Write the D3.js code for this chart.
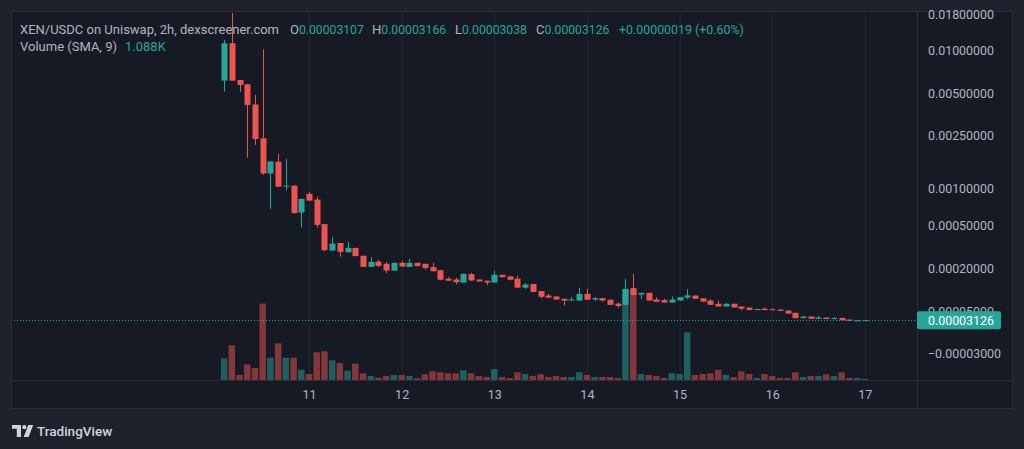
<!DOCTYPE html>
<html>
<head>
<meta charset="utf-8">
<script src="https://cdn.jsdelivr.net/npm/d3@7"></script>
<style>
  body { margin: 0; background: #1f222c; overflow: hidden; }
  svg { display: block; font-family: Roboto, "Noto Sans", sans-serif; }
  .axis text { fill: #b2b5be; }
</style>
</head>
<body>
<div id="container"></div>
<script>
/* CONSTANTS AND GLOBALS */
const width = 1024,
    height = 449,
    pane = { left: 11, top: 11, right: 917, bottom: 380, edge: 1013, foot: 409 };

// 2h candles, XEN/USDC, starting day 10 02:00
const opens = [0.00616, 0.01133, 0.00622, 0.00580, 0.00416, 0.00237, 0.00130, 0.00159, 0.00104, 0.00105,
  0.000645, 0.000907, 0.000818, 0.000518, 0.000304, 0.000356, 0.000293, 0.000321, 0.000271, 0.000210,
  0.000238, 0.000226, 0.000192, 0.000231, 0.000210, 0.000231, 0.000226, 0.000209, 0.000194, 0.000156,
  0.000153, 0.000141, 0.000176, 0.000153, 0.000148, 0.000141, 0.000173, 0.000166, 0.000156, 0.000122,
  0.000135, 0.000110, 0.0000953, 0.0000925, 0.0000853, 0.0000802, 0.0000802, 0.0001007, 0.0000831, 0.0000873,
  0.0000825, 0.0000714, 0.0000681, 0.0001202, 0.0000985, 0.0001040, 0.0000831, 0.0000815, 0.0000745, 0.0000802,
  0.0000890, 0.0000953, 0.0000870, 0.0000802, 0.0000710, 0.0000636, 0.0000710, 0.0000636, 0.0000609, 0.0000545,
  0.0000580, 0.0000565, 0.0000556, 0.0000533, 0.0000478, 0.0000357, 0.0000392, 0.0000341, 0.0000370, 0.0000335,
  0.0000362, 0.0000326, 0.0000291, 0.00003107];
const highs = [0.01196, 0.01854, 0.00623, 0.00580, 0.00487, 0.01028, 0.00160, 0.00182, 0.00167, 0.00106,
  0.000830, 0.000939, 0.000864, 0.000520, 0.000401, 0.000356, 0.000364, 0.000322, 0.000271, 0.000263,
  0.000247, 0.000236, 0.000232, 0.000242, 0.000253, 0.000232, 0.000226, 0.000231, 0.000195, 0.000163,
  0.000160, 0.000178, 0.000181, 0.000153, 0.000148, 0.000191, 0.000173, 0.000166, 0.000169, 0.000139,
  0.000135, 0.000110, 0.0001007, 0.0000925, 0.0000853, 0.0000903, 0.0001212, 0.0001176, 0.0000903, 0.0000875,
  0.0000825, 0.0000745, 0.0001557, 0.0001770, 0.0001040, 0.0001040, 0.0000903, 0.0000853, 0.0000925, 0.0000905,
  0.0001165, 0.0000955, 0.0000870, 0.0000843, 0.0000800, 0.0000727, 0.0000712, 0.0000636, 0.0000610, 0.0000573,
  0.0000609, 0.0000592, 0.0000556, 0.0000533, 0.0000478, 0.0000397, 0.0000392, 0.0000408, 0.0000370, 0.0000385,
  0.0000362, 0.0000326, 0.0000312, 0.00003166];
const lows = [0.00514, 0.00615, 0.00514, 0.00171, 0.00212, 0.00127, 0.00069, 0.00103, 0.00097, 0.00063,
  0.000485, 0.000800, 0.000485, 0.000300, 0.000300, 0.000266, 0.000290, 0.000268, 0.000210, 0.000209,
  0.000209, 0.000180, 0.000190, 0.000210, 0.000210, 0.000213, 0.000196, 0.000188, 0.000150, 0.000147,
  0.000135, 0.000140, 0.000148, 0.000144, 0.000131, 0.000140, 0.000160, 0.000150, 0.000120, 0.000118,
  0.000106, 0.0000861, 0.0000880, 0.0000830, 0.0000663, 0.0000800, 0.0000800, 0.0000820, 0.0000792, 0.0000770,
  0.0000680, 0.0000602, 0.0000678, 0.0000965, 0.0000843, 0.0000800, 0.0000765, 0.0000745, 0.0000745, 0.0000800,
  0.0000843, 0.0000850, 0.0000768, 0.0000680, 0.0000635, 0.0000635, 0.0000610, 0.0000533, 0.0000544, 0.0000544,
  0.0000544, 0.0000544, 0.0000522, 0.0000460, 0.0000356, 0.0000350, 0.0000340, 0.0000340, 0.0000334, 0.0000334,
  0.0000310, 0.0000298, 0.0000290, 0.00003038];
const closes = [0.01133, 0.00616, 0.00574, 0.00413, 0.00234, 0.00130, 0.00160, 0.00103, 0.00105, 0.00064,
  0.000829, 0.000804, 0.000511, 0.000306, 0.000352, 0.000295, 0.000321, 0.000269, 0.000210, 0.000236,
  0.000215, 0.000192, 0.000231, 0.000212, 0.000231, 0.000214, 0.000205, 0.000189, 0.000152, 0.000148,
  0.000142, 0.000177, 0.000149, 0.000145, 0.000141, 0.000173, 0.000163, 0.000152, 0.000122, 0.000133,
  0.000107, 0.0000913, 0.0000890, 0.0000831, 0.0000802, 0.0000831, 0.0001007, 0.0000825, 0.0000873, 0.0000802,
  0.0000681, 0.0000651, 0.0001176, 0.0000970, 0.0001040, 0.0000802, 0.0000765, 0.0000745, 0.0000831, 0.0000903,
  0.0000960, 0.0000853, 0.0000770, 0.0000681, 0.0000636, 0.0000710, 0.0000612, 0.0000580, 0.0000545, 0.0000572,
  0.0000545, 0.0000545, 0.0000523, 0.0000461, 0.0000357, 0.0000392, 0.0000341, 0.0000370, 0.0000335, 0.0000357,
  0.0000311, 0.0000299, 0.00003107, 0.00003126];
// volume in thousands
const volumes = [6.36, 10.17, 1.47, 4.60, 3.52, 22.36, 6.53, 10.75, 6.53, 6.53,
  3.02, 1.76, 8.12, 8.41, 5.77, 4.98, 2.72, 4.78, 1.96, 1.17,
  0.67, 1.17, 1.47, 1.47, 1.17, 0.50, 1.67, 2.55, 2.26, 1.96,
  1.96, 2.84, 1.96, 1.17, 0.88, 3.22, 0.88, 0.59, 2.26, 1.76,
  1.17, 1.67, 0.88, 1.17, 0.88, 0.88, 2.26, 1.47, 0.88, 0.88,
  0.88, 0.59, 26.66, 26.37, 1.76, 1.47, 1.17, 0.59, 1.96, 1.76,
  13.98, 1.47, 1.76, 1.96, 3.02, 1.47, 0.88, 2.55, 1.76, 0.59,
  1.76, 1.17, 0.59, 0.59, 2.26, 0.88, 1.17, 1.17, 1.67, 1.17,
  2.26, 0.59, 0.59, 0.29];
const priceTicks = [0.018, 0.01, 0.005, 0.0025, 0.001, 0.0005, 0.0002, 0.00005, -0.00003];
const dayTicks = [11, 12, 13, 14, 15, 16, 17];
const lastPrice = 0.00003126;
const titleText = "XEN/USDC on Uniswap, 2h, dexscreener.com";
const changeText = "+0.00000019 (+0.60%)";
const volumeTitle = "Volume (SMA, 9)";

const upColor = "#26a69a", downColor = "#ef5350";
const start = Date.UTC(2022, 9, 10, 2);
const data = opens.map((o, i) => ({
    date: new Date(start + i * 2 * 3600 * 1000),
    o, h: highs[i], l: lows[i], c: closes[i], v: volumes[i],
    up: closes[i] >= o
}));

//X SCALE
const xScale = d3.scaleUtc()
    .domain([new Date(Date.UTC(2022, 9, 11)), new Date(Date.UTC(2022, 9, 17))])
    .range([309, 864.8]);

//Y SCALE (TradingView style log: symlog with offset 1e-4)
const yScale = d3.scaleSymlog()
    .constant(0.0001)
    .domain([-0.0001, 0.01915])
    .range([pane.bottom, pane.top]);

const volScale = d3.scaleLinear()
    .domain([0, d3.max(volumes)])
    .range([pane.bottom, 289]);

//CREATE SVG
const svg = d3.select("#container")
    .append("svg")
    .attr("width", width)
    .attr("height", height);

svg.append("rect")
    .attr("x", pane.left).attr("y", pane.top)
    .attr("width", pane.edge - pane.left).attr("height", pane.foot - pane.top)
    .attr("fill", "#161a25");

svg.append("clipPath").attr("id", "plot")
    .append("rect")
    .attr("x", pane.left).attr("y", pane.top)
    .attr("width", pane.right - pane.left).attr("height", pane.bottom - pane.top);

//GRID
svg.append("g")
    .attr("class", "grid")
    .attr("clip-path", "url(#plot)")
    .attr("transform", `translate(${pane.right},0)`)
    .call(d3.axisLeft(yScale).tickValues(priceTicks).tickSize(pane.right - pane.left).tickFormat(""))
    .call(g => g.select(".domain").remove())
    .call(g => g.selectAll("line").attr("stroke", "#232632"));

svg.append("g")
    .attr("class", "grid")
    .attr("transform", `translate(0,${pane.bottom})`)
    .call(d3.axisBottom(xScale)
        .tickValues(dayTicks.map(d => new Date(Date.UTC(2022, 9, d))))
        .tickSize(-(pane.bottom - pane.top)).tickFormat(""))
    .call(g => g.select(".domain").remove())
    .call(g => g.selectAll("line").attr("stroke", "#232632"));

const plot = svg.append("g").attr("clip-path", "url(#plot)");

//VOLUME
plot.selectAll("rect.vol")
    .data(data)
    .join("rect")
    .attr("class", "vol")
    .attr("x", d => xScale(d.date) - 3.25)
    .attr("width", 6.5)
    .attr("y", d => volScale(d.v))
    .attr("height", d => pane.bottom - volScale(d.v))
    .attr("fill", d => d.up ? upColor : downColor)
    .attr("fill-opacity", 0.5);

//CANDLES
plot.selectAll("line.wick")
    .data(data)
    .join("line")
    .attr("class", "wick")
    .attr("x1", d => Math.round(xScale(d.date)) + 0.5)
    .attr("x2", d => Math.round(xScale(d.date)) + 0.5)
    .attr("y1", d => yScale(d.h))
    .attr("y2", d => yScale(d.l))
    .attr("stroke", d => d.up ? upColor : downColor)
    .attr("stroke-width", 1);

plot.selectAll("rect.body")
    .data(data)
    .join("rect")
    .attr("class", "body")
    .attr("x", d => Math.round(xScale(d.date)) - 2.5)
    .attr("width", 6)
    .attr("y", d => yScale(Math.max(d.o, d.c)))
    .attr("height", d => Math.max(1, yScale(Math.min(d.o, d.c)) - yScale(Math.max(d.o, d.c))))
    .attr("fill", d => d.up ? upColor : downColor);

//LAST PRICE LINE
plot.append("line")
    .attr("x1", pane.left).attr("x2", pane.right)
    .attr("y1", Math.round(yScale(lastPrice)) + 0.5)
    .attr("y2", Math.round(yScale(lastPrice)) + 0.5)
    .attr("stroke", upColor)
    .attr("stroke-dasharray", "1,2");

//BORDERS
const border = "#2a2e39";
svg.append("line").attr("x1", pane.right + 0.5).attr("x2", pane.right + 0.5)
    .attr("y1", pane.top).attr("y2", pane.foot).attr("stroke", border);
svg.append("line").attr("x1", pane.left).attr("x2", pane.edge)
    .attr("y1", pane.bottom + 0.5).attr("y2", pane.bottom + 0.5).attr("stroke", border);
svg.append("rect")
    .attr("x", pane.left + 0.5).attr("y", pane.top + 0.5)
    .attr("width", pane.edge - pane.left - 1).attr("height", pane.foot - pane.top - 1)
    .attr("fill", "none").attr("stroke", border);

//Y AXIS
svg.append("g")
    .attr("class", "axis")
    .attr("transform", `translate(${pane.right},0)`)
    .call(d3.axisRight(yScale).tickValues(priceTicks).tickSize(0).tickPadding(11)
        .tickFormat(d3.format(".8f")))
    .call(g => g.select(".domain").remove())
    .call(g => g.selectAll("text").attr("font-size", 12.4).attr("font-family", "Roboto, sans-serif"));

//LAST PRICE LABEL
const lp = svg.append("g").attr("transform", `translate(${pane.right},${yScale(lastPrice)})`);
lp.append("rect")
    .attr("x", 0).attr("y", -9).attr("width", 84).attr("height", 18).attr("rx", 2)
    .attr("fill", upColor);
lp.append("text")
    .attr("x", 11).attr("dy", "0.35em")
    .attr("fill", "#ffffff")
    .attr("font-size", 12.4)
    .text(d3.format(".8f")(lastPrice));

//X AXIS
svg.append("g")
    .attr("class", "axis")
    .attr("transform", `translate(0,${pane.bottom})`)
    .call(d3.axisBottom(xScale)
        .tickValues(dayTicks.map(d => new Date(Date.UTC(2022, 9, d))))
        .tickSize(0).tickPadding(10)
        .tickFormat(d3.utcFormat("%-d")))
    .call(g => g.select(".domain").remove())
    .call(g => g.selectAll("text").attr("font-size", 12.5).attr("font-family", "Roboto, sans-serif"));

//LEGEND
const last = data[data.length - 1];
const fmt = d3.format(".8f");
const head = svg.append("text")
    .attr("y", 33.5)
    .attr("font-size", 13)
    .attr("fill", "#b2b5be");
head.append("tspan").attr("x", 20).text(titleText);
const ohlc = [["O", last.o, 290], ["H", last.h, 372], ["L", last.l, 455], ["C", last.c, 536]];
ohlc.forEach(([k, v, px]) => {
    head.append("tspan").attr("x", px).text(k);
    head.append("tspan").attr("fill", upColor).attr("font-size", 12.2).text(fmt(v));
});
head.append("tspan").attr("x", 619).attr("fill", upColor).attr("font-size", 12.4)
    .text(changeText);

const volHead = svg.append("text")
    .attr("x", 20).attr("y", 51)
    .attr("font-size", 13)
    .attr("fill", "#b2b5be");
volHead.append("tspan").text(volumeTitle);
volHead.append("tspan").attr("dx", 8).attr("fill", upColor)
    .text(d3.format(".3f")(d3.mean(volumes.slice(-9))) + "K");

//TRADINGVIEW MARK
const tv = svg.append("g").attr("fill", "#d1d4dc");
tv.append("path").attr("d", "M12 425h9v12h-4.2v-8.2H12z");
tv.append("circle").attr("cx", 24.3).attr("cy", 427.2).attr("r", 2.1);
tv.append("path").attr("d", "M28.3 425h4.9l-4.6 12h-4.9z");
svg.append("text")
    .attr("x", 37).attr("y", 435.5)
    .attr("font-size", 13.5)
    .attr("font-weight", 500)
    .attr("fill", "#d1d4dc")
    .text("TradingView");
</script>
</body>
</html>
